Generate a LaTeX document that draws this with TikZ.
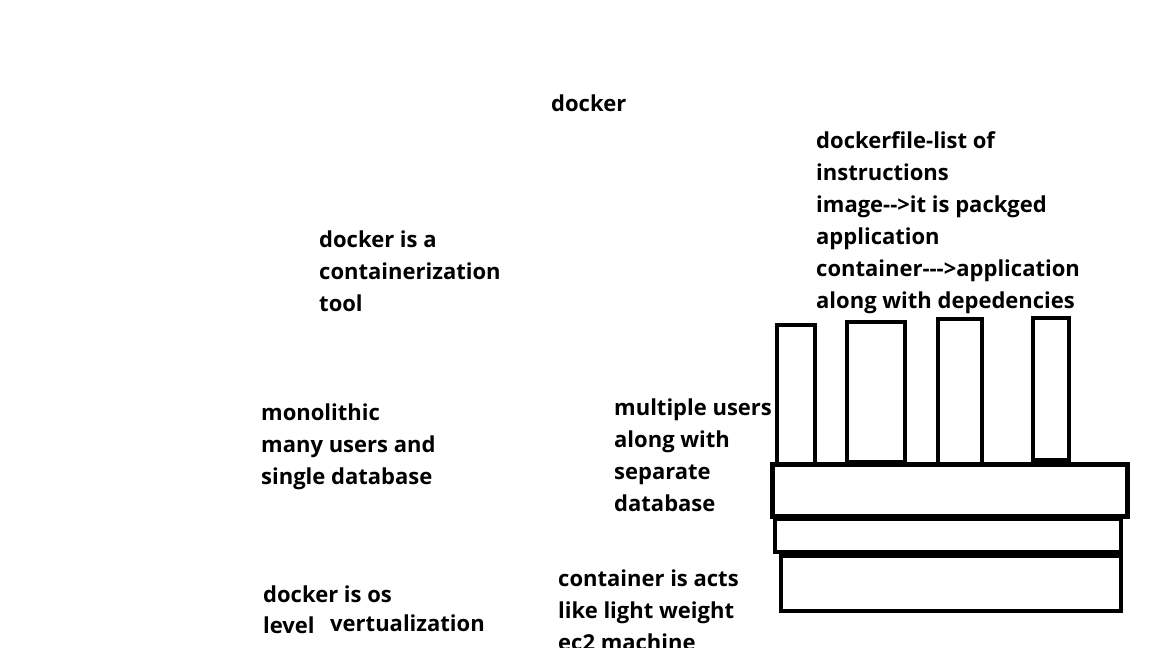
\documentclass[tikz,border=0pt]{standalone}
\usepackage{fontspec}
\setmainfont{Open Sans}
\tikzset{
  note/.style={anchor=base west, align=left, inner sep=0pt,
    font=\fontsize{22}{32}\selectfont\bfseries},
  blk/.style={line width=4pt}
}
\begin{document}
\begin{tikzpicture}[x=1pt,y=-1pt]
  \useasboundingbox (0,0) rectangle (1152,648);
  % base anchor = last line of each note
  \draw
    (551,111) node[note] (title){docker}
    (816,308) node[note] (terms){dockerfile-list of\\instructions\\image-{}->it is packged\\application\\container-{}-{}->application\\along with depedencies}
    (319,311) node[note] (tool){docker is a\\containerization\\tool}
    (261,484) node[note] (mono){monolithic\\many users and\\single database}
    (614,511) node[note] (micro){multiple users\\along with\\separate\\database}
    (263,602) node[note] (oslevel){docker is os}
    (263,633) node[note] (level){level}
    (330,631) node[note] (virt){vertualization}
    (558,650) node[note] (light){container is acts\\like light weight\\ec2 machine};
  \begin{scope}[blk]
    % containers
    \draw (777,325) rectangle (815,465);
    \draw (847,322) rectangle (905,462);
    \draw (938,319) rectangle (982,464);
    \draw (1033,318) rectangle (1069,460);
    % layers
    \draw[line width=5pt] (772,464) rectangle (1127,516);
    \draw (775,519) rectangle (1121,552);
    \draw (781,556) rectangle (1121,611);
  \end{scope}
\end{tikzpicture}
\end{document}
